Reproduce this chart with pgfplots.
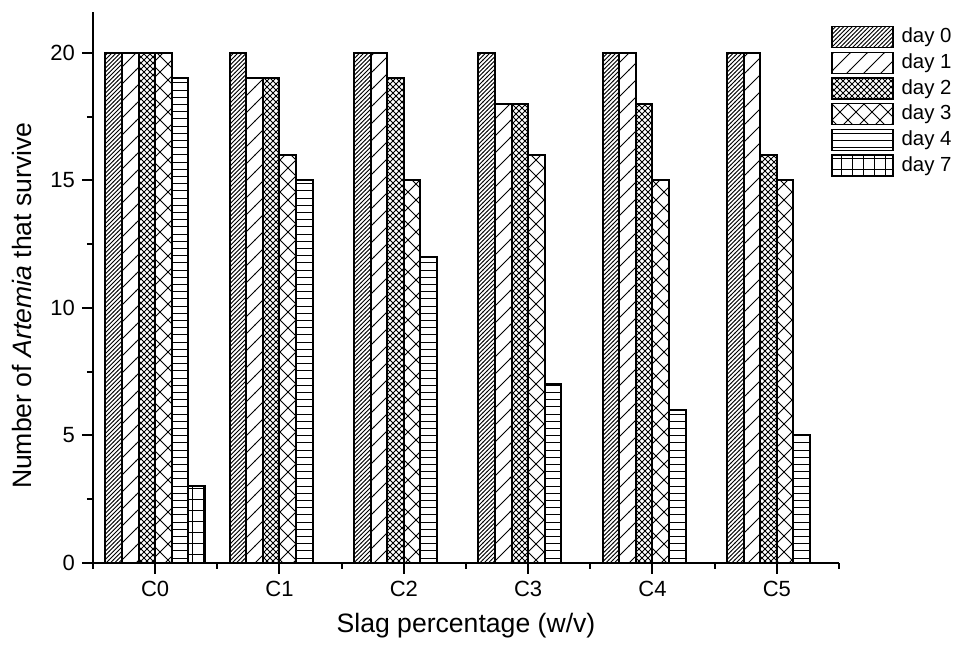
\documentclass[border=0pt]{standalone}
\usepackage{pgfplots}
\pgfplotsset{compat=1.18}
\usepackage{fontspec}
\setmainfont{Liberation Sans}
\usetikzlibrary{patterns}

\pgfdeclarepatternformonly{neDense}{\pgfqpoint{-1pt}{-1pt}}{\pgfqpoint{3pt}{3pt}}{\pgfqpoint{2.1pt}{2.1pt}}{%
  \pgfsetlinewidth{0.45pt}\pgfpathmoveto{\pgfqpoint{-0.1pt}{-0.1pt}}\pgfpathlineto{\pgfqpoint{2.2pt}{2.2pt}}\pgfusepath{stroke}}
\pgfdeclarepatternformonly{neSparse}{\pgfqpoint{-1pt}{-1pt}}{\pgfqpoint{9.5pt}{9.5pt}}{\pgfqpoint{8.5pt}{8.5pt}}{%
  \pgfsetlinewidth{0.45pt}\pgfpathmoveto{\pgfqpoint{-0.1pt}{-0.1pt}}\pgfpathlineto{\pgfqpoint{8.6pt}{8.6pt}}\pgfusepath{stroke}}
\pgfdeclarepatternformonly{dcDense}{\pgfqpoint{-1pt}{-1pt}}{\pgfqpoint{4pt}{4pt}}{\pgfqpoint{3pt}{3pt}}{%
  \pgfsetlinewidth{0.45pt}\pgfpathmoveto{\pgfqpoint{-0.1pt}{-0.1pt}}\pgfpathlineto{\pgfqpoint{3.1pt}{3.1pt}}
  \pgfpathmoveto{\pgfqpoint{-0.1pt}{3.1pt}}\pgfpathlineto{\pgfqpoint{3.1pt}{-0.1pt}}\pgfusepath{stroke}}
\pgfdeclarepatternformonly{dcSparse}{\pgfqpoint{-1pt}{-1pt}}{\pgfqpoint{9pt}{9pt}}{\pgfqpoint{8pt}{8pt}}{%
  \pgfsetlinewidth{0.45pt}\pgfpathmoveto{\pgfqpoint{-0.1pt}{-0.1pt}}\pgfpathlineto{\pgfqpoint{8.1pt}{8.1pt}}
  \pgfpathmoveto{\pgfqpoint{-0.1pt}{8.1pt}}\pgfpathlineto{\pgfqpoint{8.1pt}{-0.1pt}}\pgfusepath{stroke}}
\pgfdeclarepatternformonly{hLines}{\pgfqpoint{-1pt}{-1pt}}{\pgfqpoint{4.6pt}{4.6pt}}{\pgfqpoint{3.6pt}{3.6pt}}{%
  \pgfsetlinewidth{0.45pt}\pgfpathmoveto{\pgfqpoint{-0.1pt}{1.8pt}}\pgfpathlineto{\pgfqpoint{3.7pt}{1.8pt}}\pgfusepath{stroke}}
\pgfdeclarepatternformonly{gridP}{\pgfqpoint{-1pt}{-1pt}}{\pgfqpoint{6.5pt}{6.5pt}}{\pgfqpoint{5.5pt}{5.5pt}}{%
  \pgfsetlinewidth{0.45pt}\pgfpathmoveto{\pgfqpoint{-0.1pt}{2.75pt}}\pgfpathlineto{\pgfqpoint{5.6pt}{2.75pt}}
  \pgfpathmoveto{\pgfqpoint{2.75pt}{-0.1pt}}\pgfpathlineto{\pgfqpoint{2.75pt}{5.6pt}}\pgfusepath{stroke}}

\pgfplotsset{
  legbox/.style={legend image code/.code={\draw[##1,line width=0.7pt] (0pt,-5.25pt) rectangle (30.5pt,5.25pt);}},
  barst/.style={draw=black, line width=1pt, pattern=#1, pattern color=black, legbox},
}

\begin{document}
\begin{tikzpicture}
\begin{axis}[
  scale only axis,
  width=373pt, height=275.5pt,
  xmin=-0.5, xmax=5.5,
  ymin=0, ymax=21.6,
  axis lines*=left,
  axis line style={line width=1pt},
  ybar=0pt,
  bar width=0.1333,
  xtick={0,1,2,3,4,5},
  xticklabels={C0,C1,C2,C3,C4,C5},
  minor xtick={-0.5,0.5,1.5,2.5,3.5,4.5,5.5},
  ytick={0,5,10,15,20},
  minor ytick={2.5,7.5,12.5,17.5},
  tick align=outside,
  major tick length=5.5pt,
  minor tick length=3pt,
  tick style={line width=1pt, black},
  ticklabel style={font=\fontsize{11}{13}\selectfont},
  /pgf/number format/assume math mode=true,
  xlabel={Slag percentage (w/v)},
  ylabel={Number of \textit{Artemia} that survive},
  label style={font=\fontsize{13.3}{15}\selectfont},
  xlabel style={at={(axis description cs:0.5,-0.0)}, anchor=center, yshift=-31.5pt},
  ylabel style={at={(axis description cs:-0.0952,0.467)}, anchor=center},
  legend style={at={(0.981,0.985)}, anchor=north west, draw=none, fill=none,
    font=\fontsize{10.2}{12}\selectfont, row sep=0.35pt,
    nodes={text height=7.5pt, text depth=2pt, inner sep=1.5pt},
    /tikz/every odd column/.append style={column sep=2.5pt}},
  legend cell align=left,
  clip=false,
]
\addplot[barst=neDense] coordinates {(0,20) (1,20) (2,20) (3,20) (4,20) (5,20)};
\addplot[barst=neSparse] coordinates {(0,20) (1,19) (2,20) (3,18) (4,20) (5,20)};
\addplot[barst=dcDense] coordinates {(0,20) (1,19) (2,19) (3,18) (4,18) (5,16)};
\addplot[barst=dcSparse] coordinates {(0,20) (1,16) (2,15) (3,16) (4,15) (5,15)};
\addplot[barst=hLines] coordinates {(0,19) (1,15) (2,12) (3,7) (4,6) (5,5)};
\addplot[barst=gridP] coordinates {(0,3)};
\legend{day 0,day 1,day 2,day 3,day 4,day 7}
\end{axis}
\pgfresetboundingbox
\path (-46.5pt,-42.5pt) rectangle (433.5pt,281.5pt);
\end{tikzpicture}
\end{document}
